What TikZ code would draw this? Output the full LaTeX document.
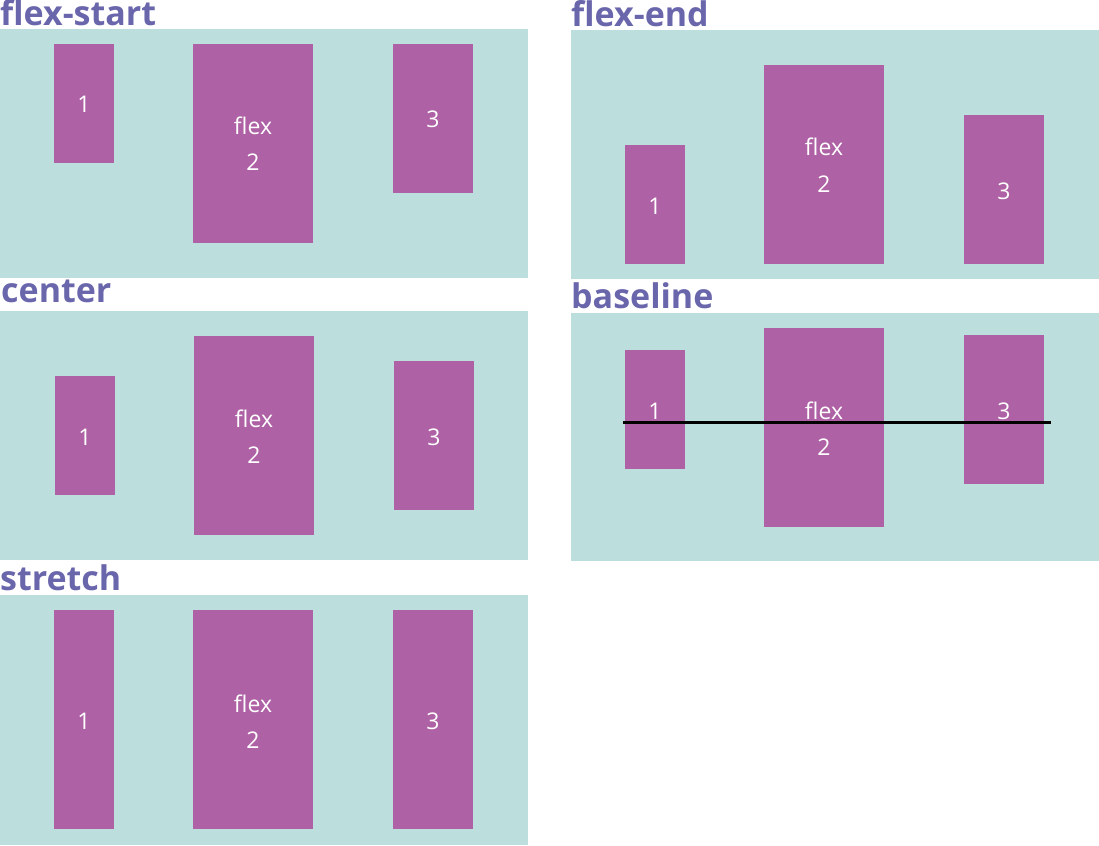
\documentclass[tikz,border=0pt]{standalone}
\usepackage{fontspec}
\setmainfont{Open Sans}
\definecolor{panelbg}{HTML}{BCDFDE}
\definecolor{itembg}{HTML}{AE62A5}
\definecolor{titlecol}{HTML}{6A66AC}
\tikzset{
  panel/.style={fill=panelbg, draw=none},
  item/.style={fill=itembg, draw=none},
  ttl/.style={anchor=base west, inner sep=0pt, text=titlecol, font=\bfseries\fontsize{34}{34}\selectfont},
  lbl/.style={anchor=base, inner sep=0pt, text=white, font=\fontsize{23}{23}\selectfont},
  baseln/.style={line width=3pt, draw=black}
}
\begin{document}
\begin{tikzpicture}[x=1pt,y=-1pt]
\useasboundingbox (0,0) rectangle (1099,845);
% ---------- flex-start
\node[ttl] (t1) at (0,26) {flex-start};
\path[panel] (0,29) rectangle (528,278);
\path[item] (54,44) rectangle (114,163);
\path[item] (193,44) rectangle (313,243);
\path[item] (393,44) rectangle (473,193);
\node[lbl] (a1) at (84,113) {1};
\node[lbl] (a2a) at (253,135) {flex};
\node[lbl] (a2b) at (253,171) {2};
\node[lbl] (a3) at (433,128) {3};
% ---------- flex-end
\node[ttl] (t2) at (571,27) {flex-end};
\path[panel] (571,30) rectangle (1099,279);
\path[item] (625,145) rectangle (685,264);
\path[item] (764,65) rectangle (884,264);
\path[item] (964,115) rectangle (1044,264);
\node[lbl] (b1) at (655,214) {1};
\node[lbl] (b2a) at (824,156) {flex};
\node[lbl] (b2b) at (824,192) {2};
\node[lbl] (b3) at (1004,199) {3};
% ---------- center
\node[ttl] (t3) at (1,302) {center};
\path[panel] (0,311) rectangle (528,560);
\path[item] (55,376) rectangle (115,495);
\path[item] (194,336) rectangle (314,535);
\path[item] (394,361) rectangle (474,510);
\node[lbl] (c1) at (85,445) {1};
\node[lbl] (c2a) at (254,427) {flex};
\node[lbl] (c2b) at (254,463) {2};
\node[lbl] (c3) at (434,445) {3};
% ---------- baseline
\node[ttl] (t4) at (571,308) {baseline};
\path[panel] (571,313) rectangle (1099,561);
\path[item] (625,350) rectangle (685,469);
\path[item] (764,328) rectangle (884,527);
\path[item] (964,335) rectangle (1044,484);
\node[lbl] (d1) at (655,419) {1};
\node[lbl] (d2a) at (824,419) {flex};
\node[lbl] (d2b) at (824,455) {2};
\node[lbl] (d3) at (1004,419) {3};
\coordinate (ls) at (623,422);
\coordinate (le) at (1051,422);
\draw[baseln] (ls) -- (le);
% ---------- stretch
\node[ttl] (t5) at (0,590) {stretch};
\path[panel] (0,595) rectangle (528,845);
\path[item] (54,610) rectangle (114,829);
\path[item] (193,610) rectangle (313,829);
\path[item] (393,610) rectangle (473,829);
\node[lbl] (e1) at (84,729) {1};
\node[lbl] (e2a) at (253,712) {flex};
\node[lbl] (e2b) at (253,748) {2};
\node[lbl] (e3) at (433,729) {3};
\end{tikzpicture}
\end{document}
